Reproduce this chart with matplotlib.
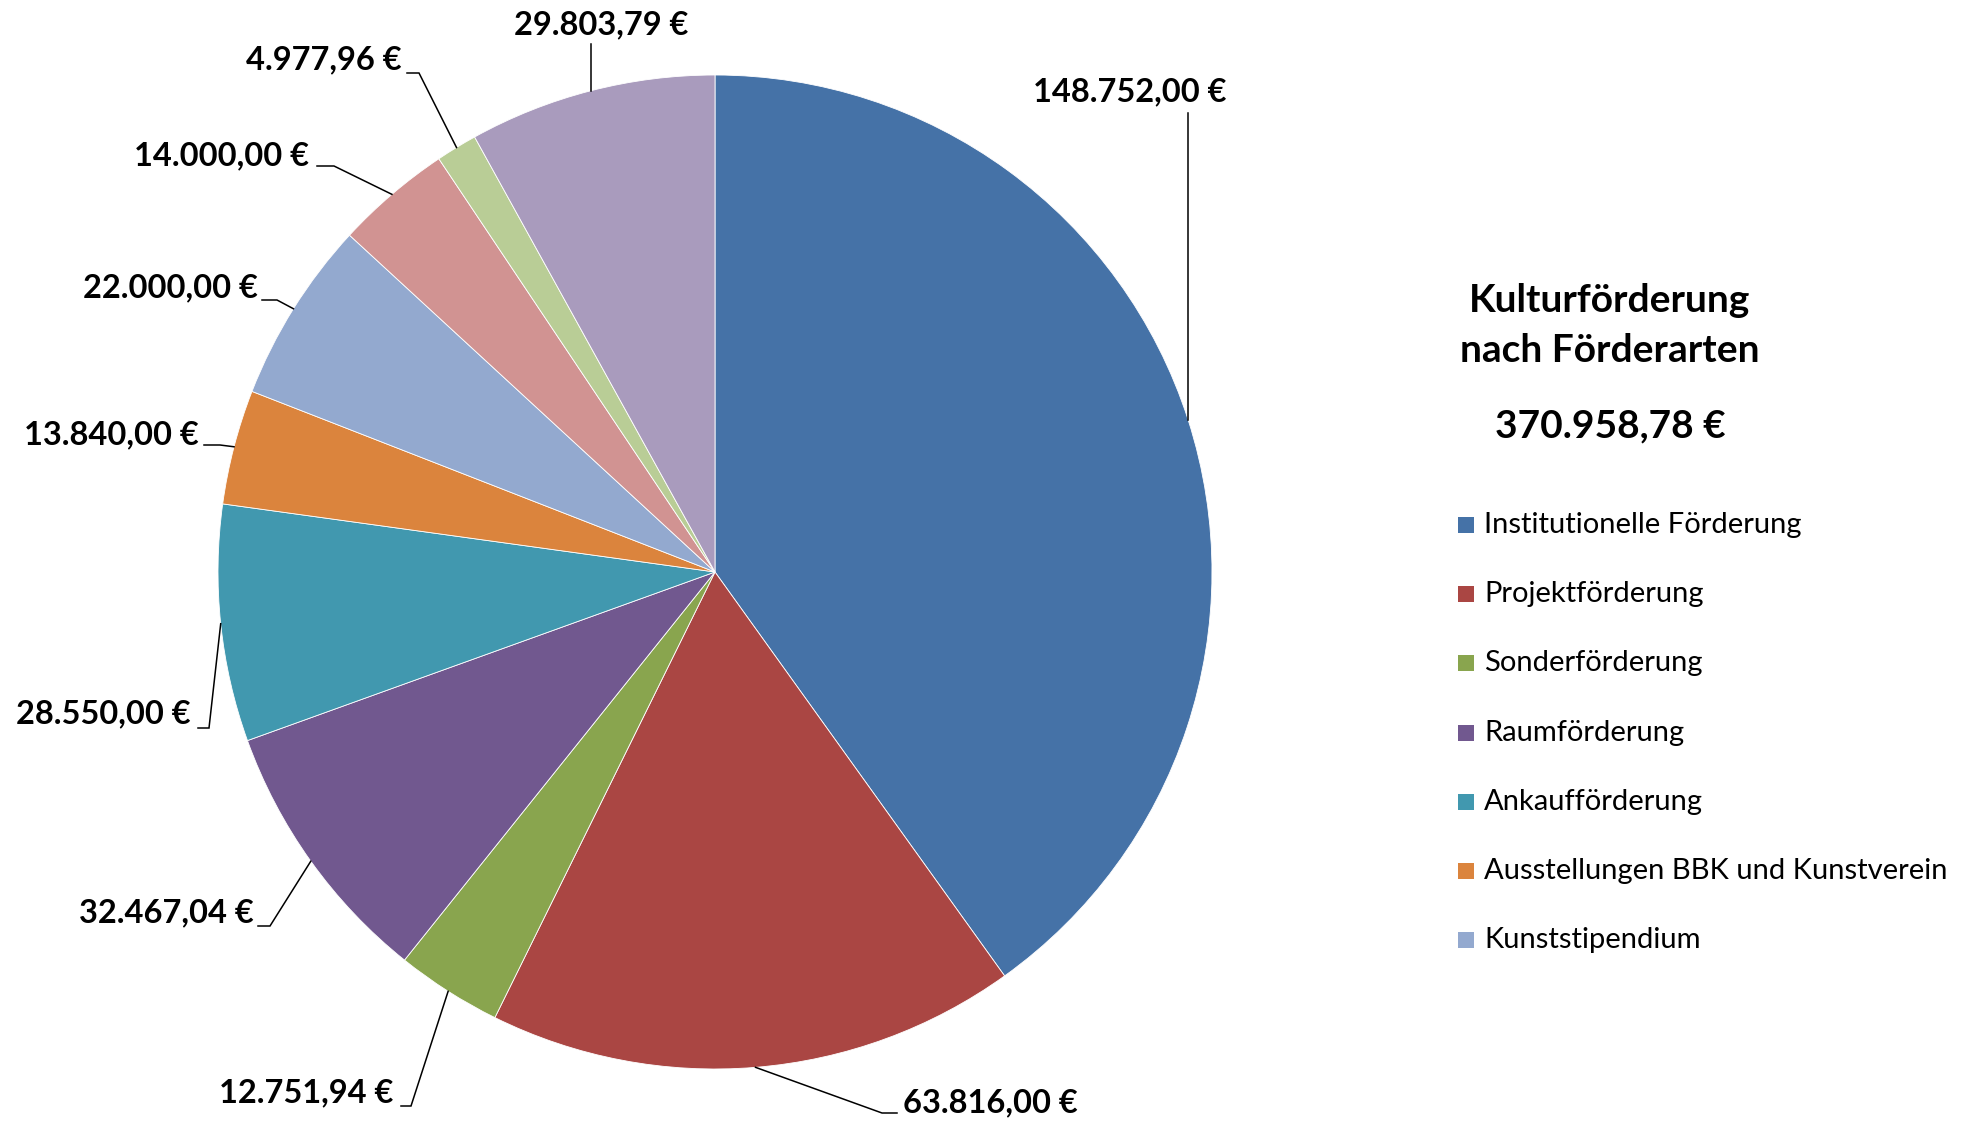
"""Kulturförderung nach Förderarten - pie chart with leader-line labels."""

import matplotlib
matplotlib.use("Agg")
import matplotlib.pyplot as plt
import numpy as np
from matplotlib.patches import Rectangle

W, H = 1975, 1124

values = [148752.00, 63816.00, 12751.94, 32467.04, 28550.00,
          13840.00, 22000.00, 14000.00, 4977.96, 29803.79]
value_labels = ["148.752,00 €", "63.816,00 €", "12.751,94 €", "32.467,04 €",
                "28.550,00 €", "13.840,00 €", "22.000,00 €", "14.000,00 €",
                "4.977,96 €", "29.803,79 €"]
legend_names = ["Institutionelle Förderung", "Projektförderung",
                "Sonderförderung", "Raumförderung", "Ankaufförderung",
                "Ausstellungen BBK und Kunstverein", "Kunststipendium"]
colors = ["#4572A7", "#AA4643", "#89A54E", "#71588F", "#4198AF",
          "#DB843D", "#93A9CF", "#D19392", "#B9CD96", "#A99BBD"]
title_lines = ["Kulturförderung", "nach Förderarten"]
total_label = "370.958,78 €"

# label text centre and leader points (image pixels, y down);
# a number means "vertical line straight up from the edge point to this y"
label_pos = [(1130, 92), (990, 1103), (306, 1093), (166, 913), (103, 714),
             (111, 435), (170, 288), (222, 156), (324, 60), (601, 25)]
leader_pts = [
    113,
    [(882, 1113), (897, 1113)],
    [(411, 1106), (401, 1106)],
    [(270, 926), (258, 926)],
    [(209, 728), (198, 728)],
    [(220, 445), (204, 445)],
    [(277, 300), (262, 300)],
    [(334, 166), (317, 166)],
    [(419, 73), (407, 73)],
    44,
]

plt.rcParams["font.family"] = ["Lato", "DejaVu Sans"]


def px(x, y):
    return x, H - y


def main():
    fig = plt.figure(figsize=(W / 100, H / 100), dpi=100)
    ax = fig.add_axes([0, 0, 1, 1])

    cx, cy = px(715, 572)
    r = 497
    wedges, _ = ax.pie(values, colors=colors, startangle=90,
                       counterclock=False, center=(cx, cy), radius=r,
                       wedgeprops=dict(edgecolor="white", linewidth=0.6))
    ax.set_xlim(0, W)
    ax.set_ylim(0, H)
    ax.set_aspect("equal")
    ax.axis("off")

    for i, w in enumerate(wedges):
        mid = np.deg2rad((w.theta1 + w.theta2) / 2)
        ex, ey = cx + r * np.cos(mid), cy + r * np.sin(mid)
        spec = leader_pts[i]
        if isinstance(spec, list):
            pts = [px(*p) for p in spec]
        else:
            pts = [(ex, H - spec)]
        xs = [ex] + [p[0] for p in pts]
        ys = [ey] + [p[1] for p in pts]
        ax.plot(xs, ys, color="black", linewidth=1.1, solid_joinstyle="miter")
        tx, ty = px(*label_pos[i])
        ax.text(tx, ty, value_labels[i], ha="center", va="center",
                fontsize=23.5, fontweight="bold", color="black")

    ax.text(*px(1610, 300), title_lines[0], ha="center", va="center",
            fontsize=28, fontweight="bold")
    ax.text(*px(1610, 351), title_lines[1], ha="center", va="center",
            fontsize=28, fontweight="bold")
    ax.text(*px(1610, 426), total_label, ha="center", va="center",
            fontsize=28, fontweight="bold")

    for i, name in enumerate(legend_names):
        yc = 525 + i * 69.2
        x0, y0 = px(1458, yc + 8)
        ax.add_patch(Rectangle((x0, y0), 16, 16, facecolor=colors[i],
                               edgecolor="none"))
        ax.text(*px(1484, yc), name, ha="left", va="center", fontsize=21)

    fig.savefig("out.png", dpi=100)


if __name__ == "__main__":
    main()
